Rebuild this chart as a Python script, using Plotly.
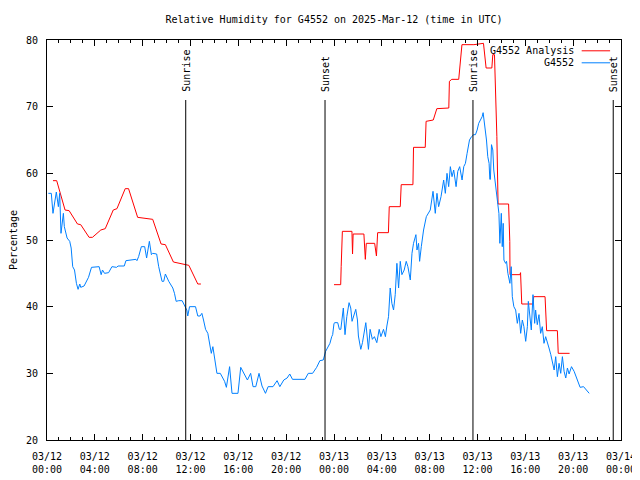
import plotly.graph_objects as go

# ---- data (hours since 2025-03-12 00:00 UTC) ----
obs_hours = [0.11, 0.36, 0.50, 0.64, 0.78, 0.95, 1.06, 1.17, 1.28, 1.37, 1.45, 1.68, 1.90, 2.02, 2.15, 2.30,
             2.46, 2.60, 2.74, 2.82, 3.10, 3.47, 3.72, 4.36, 4.53, 4.64, 4.81, 5.15, 5.43, 5.82, 5.94, 6.46,
             6.60, 7.44, 7.52, 7.66, 7.89, 8.17, 8.33, 8.56, 8.73, 8.84, 9.17, 9.34, 9.62, 9.76, 9.90, 10.18,
             10.52, 10.66, 10.80, 11.02, 11.30, 11.58, 11.69, 11.77, 11.92, 12.42, 12.61, 12.80, 12.95, 13.09,
             13.26, 13.45, 13.59, 13.74, 13.87, 14.07, 14.21, 14.49, 14.85, 15.00, 15.19, 15.27, 15.47, 15.97,
             16.20, 16.45, 16.76, 17.03, 17.23, 17.46, 17.73, 17.98, 18.27, 18.49, 18.90, 19.24, 19.47, 19.80,
             20.08, 20.30, 20.53, 21.57, 21.85, 22.21, 22.55, 22.82, 23.10, 23.30, 23.52, 23.66, 23.81, 23.89,
             24.00, 24.08, 24.31, 24.45, 24.57, 24.70, 24.78, 24.92, 25.07, 25.26, 25.40, 25.51, 25.62, 25.82,
             25.96, 26.04, 26.24, 26.38, 26.66, 26.88, 27.02, 27.21, 27.38, 27.58, 27.78, 27.92, 28.14, 28.30,
             28.42, 28.56, 28.70, 28.84, 28.98, 29.12, 29.26, 29.40, 29.54, 29.68, 29.87, 30.04, 30.18, 30.38,
             30.52, 30.65, 30.85, 30.94, 31.07, 31.16, 31.30, 31.49, 31.72, 32.05, 32.28, 32.47, 32.61, 32.75,
             32.95, 33.17, 33.31, 33.45, 33.59, 33.73, 33.87, 34.01, 34.21, 34.35, 34.51, 34.71, 34.85, 34.99,
             35.13, 35.33, 35.50, 35.69, 35.83, 35.97, 36.10, 36.25, 36.39, 36.47, 36.58, 36.66, 36.75, 36.86,
             36.97, 37.03, 37.08, 37.17, 37.28, 37.36, 37.45, 37.56, 37.65, 37.79, 37.87, 37.99, 38.07, 38.15,
             38.21, 38.35, 38.43, 38.54, 38.71, 38.82, 38.91, 39.04, 39.19, 39.33, 39.47, 39.61, 39.75, 39.88,
             40.03, 40.17, 40.25, 40.39, 40.50, 40.64, 40.78, 40.86, 41.00, 41.14, 41.28, 41.42, 41.56, 41.70,
             41.84, 41.98, 42.13, 42.27, 42.41, 42.54, 42.68, 42.82, 42.96, 43.10, 43.24, 43.38, 43.52, 43.66,
             43.86, 44.08, 44.36, 44.58, 44.87, 45.06, 45.34]
obs_rh = [57.0, 57.0, 54.0, 55.5, 57.2, 55.0, 57.0, 51.0, 53.0, 54.0, 52.0, 50.3, 49.8, 48.8, 46.0, 45.5,
          43.5, 42.6, 43.4, 42.9, 43.1, 44.4, 45.9, 46.0, 44.8, 45.5, 45.0, 45.1, 46.0, 45.9, 46.1, 46.1,
          46.9, 47.1, 46.9, 47.5, 49.0, 49.0, 47.3, 49.8, 47.8, 48.0, 47.9, 46.0, 43.8, 43.8, 44.9, 43.8,
          42.8, 42.0, 40.8, 40.9, 40.9, 39.8, 39.5, 38.6, 40.0, 40.0, 38.6, 38.6, 39.0, 38.0,
          36.6, 36.0, 34.5, 33.0, 34.0, 32.0, 30.0, 30.0, 28.8, 27.9, 30.5, 31.0, 27.0, 27.0,
          30.9, 30.1, 29.0, 30.0, 28.0, 28.0, 30.0, 28.1, 27.0, 28.0, 28.0, 28.9, 28.0, 29.0,
          29.3, 29.9, 29.1, 29.1, 30.0, 30.0, 30.9, 31.9, 32.0, 33.3, 34.0, 34.5, 35.5, 35.8,
          37.5, 37.6, 37.6, 36.6, 36.6, 39.0, 39.8, 35.8, 38.5, 40.6, 39.8, 37.8, 38.5, 39.6,
          38.0, 35.6, 33.6, 34.6, 37.6, 33.6, 36.6, 35.1, 35.5, 34.6, 36.6, 35.5, 36.6, 35.5,
          37.1, 38.5, 42.8, 40.5, 39.5, 41.8, 46.5, 42.8, 46.8, 44.8, 45.5, 46.8, 46.0, 44.0,
          48.0, 49.5, 50.8, 48.5, 49.5, 46.8, 49.0, 51.5, 53.5, 54.5, 57.3, 54.0, 57.0, 55.0,
          56.5, 59.0, 57.0, 60.0, 58.0, 61.0, 59.5, 60.5, 58.0, 60.3, 61.0, 59.0, 61.0, 61.5,
          63.0, 65.0, 65.5, 65.8, 65.8, 66.5, 67.5, 68.0, 68.5, 69.1, 67.5, 66.0, 65.0, 62.5,
          61.5, 59.1, 59.1, 64.3, 63.5, 60.5, 59.3, 57.5, 56.5, 54.0, 49.5, 54.0, 49.0, 52.5,
          47.0, 46.5, 46.8, 45.0, 43.5, 46.0, 41.5, 40.0, 39.5, 37.5, 39.0, 36.0, 38.0, 37.0,
          34.8, 37.0, 40.8, 38.5, 36.5, 41.8, 37.5, 39.5, 37.3, 38.8, 36.0, 37.0, 34.5, 35.5,
          34.8, 33.8, 32.8, 31.5, 30.5, 32.5, 29.5, 31.5, 30.0, 32.5, 30.3, 29.3, 30.8, 29.9,
          31.0, 30.3, 29.0, 27.9, 28.0, 27.6, 27.0]

ana_hours = [0.50, 0.81, 1.51, 1.85, 2.55, 2.82, 3.52, 3.80, 4.50, 4.87, 5.54, 5.85, 6.54, 6.82, 7.58, 8.22,
             8.84, 9.54, 9.90, 10.57, 11.63, 11.86, 12.61, 12.87, None,
             24.00, 24.56, 24.60, 24.70, 25.50, 25.55, 25.60, 26.50, 26.62, 26.70, 27.40, 27.55, 27.65, 28.55,
             28.62, 29.54, 29.62, 30.60, 30.65, 31.63, 31.70, 32.30, 32.60, 33.60, 33.65, 33.85, 34.43, 34.70,
             35.70, 36.50, 36.72, 37.20, 37.28, 37.42, 37.62, 37.72, 38.60, 38.70, 38.72, 39.55, 39.60, 39.66,
             39.70, 40.65, 40.70, 41.65, 41.72, 41.78, 42.68, 42.75, 43.70]
ana_rh = [58.9, 58.9, 54.5, 54.4, 52.4, 52.3, 50.4, 50.4, 51.5, 51.7, 54.5, 54.7, 57.7, 57.7, 53.4, 53.3,
          53.1, 49.4, 49.3, 46.7, 46.2, 46.2, 43.4, 43.4, None,
          43.3, 43.3, 46.0, 51.3, 51.3, 47.9, 50.9, 50.9, 47.1, 49.5, 49.5, 47.6, 51.1, 51.1,
          55.0, 55.0, 58.3, 58.3, 63.9, 63.9, 67.8, 68.0, 69.7, 69.8, 73.8, 74.1, 74.1, 79.3,
          79.3, 79.5, 75.8, 75.8, 77.8, 77.8, 65.5, 55.4, 55.4, 49.8, 44.8, 44.8, 45.1, 42.9,
          40.4, 40.4, 41.5, 41.5, 39.0, 36.4, 36.4, 33.0, 33.0]

sun_hours = [11.60, 23.25, 35.62, 47.35]
sun_labels = ["Sunrise", "Sunset", "Sunrise", "Sunset"]

tick_hours = [0, 4, 8, 12, 16, 20, 24, 28, 32, 36, 40, 44, 48]
tick_labels = ["03/12<br>00:00", "03/12<br>04:00", "03/12<br>08:00", "03/12<br>12:00", "03/12<br>16:00",
               "03/12<br>20:00", "03/13<br>00:00", "03/13<br>04:00", "03/13<br>08:00", "03/13<br>12:00",
               "03/13<br>16:00", "03/13<br>20:00", "03/14<br>00:00"]

series_names = ["G4552 Analysis", "G4552"]
series_colors = ["#ff0000", "#0080ff"]

FONT = "DejaVu Sans Mono"

fig = go.Figure()
fig.add_trace(go.Scatter(x=ana_hours, y=ana_rh, mode="lines", name=series_names[0],
                         line=dict(color=series_colors[0], width=1), connectgaps=False))
fig.add_trace(go.Scatter(x=obs_hours, y=obs_rh, mode="lines", name=series_names[1],
                         line=dict(color=series_colors[1], width=1)))

shapes = []
annotations = []
for t, lab in zip(sun_hours, sun_labels):
    shapes.append(dict(type="line", xref="x", yref="y", x0=t, x1=t, y0=20, y1=71,
                       line=dict(color="black", width=1)))
    annotations.append(dict(x=t, y=71, xref="x", yref="y", text=lab, textangle=-90,
                            showarrow=False, xanchor="center", yanchor="bottom", yshift=6,
                            font=dict(family=FONT, size=10, color="black")))

# legend (gnuplot style: text right-aligned, sample line to the right)
leg_y = [0.973, 0.943]
for name, col, ly in zip(series_names, series_colors, leg_y):
    annotations.append(dict(x=0.921, y=ly, xref="paper", yref="paper", text=name, showarrow=False,
                            xanchor="right", yanchor="middle", font=dict(family=FONT, size=10, color="black")))
    shapes.append(dict(type="line", xref="paper", yref="paper", x0=0.9315, x1=0.981, y0=ly, y1=ly,
                       line=dict(color=col, width=1)))

# the page body adds an 8px offset, so the figure is 632x472 with margins compensated
fig.update_layout(
    width=632, height=472,
    margin=dict(l=39, r=19, t=32, b=40, autoexpand=False),
    paper_bgcolor="white", plot_bgcolor="white",
    showlegend=False,
    font=dict(family=FONT, size=10, color="black"),
    title=dict(text="Relative Humidity for G4552 on 2025-Mar-12 (time in UTC)",
               x=0.5, xref="paper", xanchor="center", y=1 - 11 / 472, yref="container", yanchor="middle",
               font=dict(family=FONT, size=10, color="black")),
    shapes=shapes, annotations=annotations,
)
fig.update_xaxes(range=[0, 48], tickmode="array", tickvals=tick_hours, ticktext=tick_labels,
                 ticks="inside", ticklen=6, tickcolor="black", showline=True, linecolor="black", linewidth=1,
                 mirror="allticks", showgrid=False, zeroline=False, automargin=False,
                 ticklabelstandoff=7,
                 minor=dict(tickmode="linear", tick0=0, dtick=1, ticks="inside", ticklen=3, tickcolor="black",
                            showgrid=False),
                 tickfont=dict(family=FONT, size=10, color="black"))
fig.update_yaxes(range=[20, 80], tickmode="linear", tick0=20, dtick=10,
                 ticks="inside", ticklen=6, tickcolor="black", showline=True, linecolor="black", linewidth=1,
                 mirror="allticks", showgrid=False, zeroline=False, automargin=False,
                 ticklabelstandoff=6,
                 title=dict(text="Percentage", font=dict(family=FONT, size=10, color="black"), standoff=17),
                 tickfont=dict(family=FONT, size=10, color="black"))

fig.write_html("out.html")
